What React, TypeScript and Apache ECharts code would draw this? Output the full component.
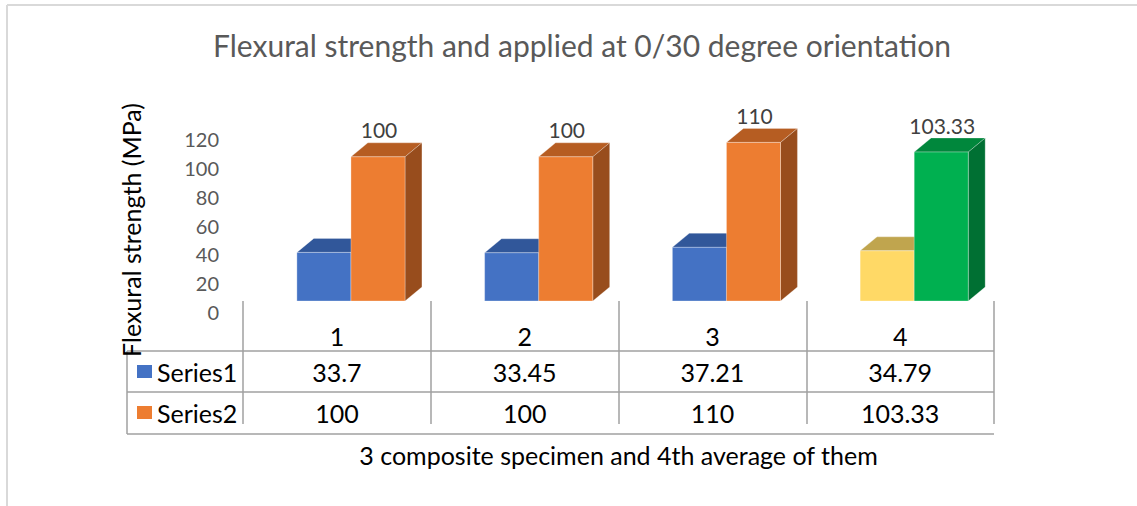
import React, { useEffect, useRef } from "react";
import * as echarts from "echarts";

const categories = ["1", "2", "3", "4"];
const series1Name = "Series1";
const series2Name = "Series2";
const series1Values = [33.7, 33.45, 37.21, 34.79];
const series2Values = [100, 100, 110, 103.33];
const yTicks = { min: 0, max: 120, interval: 20 };
const titleText = "Flexural strength and applied at 0/30 degree orientation";
const yAxisTitle = "Flexural strength (MPa)";
const xAxisTitle = "3 composite specimen and 4th average of them";

// face colours [front, top, side] per series per category
const series1Faces = [
  ["#4472C4", "#31579A", "#28477F"],
  ["#4472C4", "#31579A", "#28477F"],
  ["#4472C4", "#31579A", "#28477F"],
  ["#FFD966", "#C0A54E", "#A08A40"],
];
const series2Faces = [
  ["#ED7D31", "#B65D22", "#984D1D"],
  ["#ED7D31", "#B65D22", "#984D1D"],
  ["#ED7D31", "#B65D22", "#984D1D"],
  ["#00B050", "#00873C", "#007033"],
];

const FONT = "Lato";
const TABLE_FS = 25;

function makeRender(faces: string[][], seriesIdx: number, showLabel: boolean) {
  return (params: any, api: any) => {
    const ci = api.value(0);
    const v = api.value(1);
    const top = api.coord([ci, v]);
    const base = api.coord([ci, 0]);
    const band = api.size([1, 0])[0];
    const w = band * 0.288;
    const dx = band * 0.09;
    const dy = 14;
    const x0 = top[0] - band * 0.213 + seriesIdx * w;
    const x1 = x0 + w;
    const yt = top[1];
    const yb = base[1];
    const f = faces[ci];
    const children: any[] = [
      {
        type: "polygon",
        shape: { points: [[x0, yt], [x1, yt], [x1 + dx, yt - dy], [x0 + dx, yt - dy]] },
        style: { fill: f[1], stroke: "rgba(255,255,255,0.25)", lineWidth: 1 },
      },
      {
        type: "polygon",
        shape: { points: [[x1, yt], [x1 + dx, yt - dy], [x1 + dx, yb - dy], [x1, yb]] },
        style: { fill: f[2], stroke: "rgba(255,255,255,0.25)", lineWidth: 1 },
      },
      {
        type: "rect",
        shape: { x: x0, y: yt, width: w, height: yb - yt },
        style: { fill: f[0], stroke: "rgba(255,255,255,0.3)", lineWidth: 1 },
      },
    ];
    if (showLabel) {
      children.push({
        type: "text",
        style: {
          text: String(v),
          x: (x0 + x1) / 2 + 1,
          y: yt - dy - 13,
          align: "center",
          verticalAlign: "middle",
          font: `21px ${FONT}`,
          fill: "#404040",
        },
      });
    }
    return { type: "group", children };
  };
}

export default function App() {
  const ref = useRef<HTMLDivElement>(null);
  useEffect(() => {
    const chart = echarts.init(ref.current!, null, { renderer: "svg" });
    const tableLine = { stroke: "#A0A0A0", lineWidth: 1.5 };
    const rowAxis = (margin: number, values: number[] | null) => ({
      type: "category",
      gridIndex: 0,
      data: categories,
      position: "bottom",
      offset: 10,
      axisLine: { show: false },
      axisTick: { show: false },
      axisLabel: {
        margin,
        fontFamily: FONT,
        fontSize: TABLE_FS,
        color: "#000",
        formatter: (v: string, i: number) => (values ? String(values[i]) : v),
      },
    });
    chart.setOption({
      animation: false,
      backgroundColor: "#fff",
      title: {
        text: titleText,
        left: 577,
        textAlign: "center",
        top: 25,
        textStyle: { fontFamily: FONT, fontSize: 30, fontWeight: "normal", color: "#595959" },
      },
      legend: {
        data: [series1Name, series2Name],
        orient: "vertical",
        left: 137,
        top: 359,
        padding: 0,
        itemGap: 16,
        itemWidth: 15,
        itemHeight: 13,
        icon: "rect",
        selectedMode: false,
        textStyle: { fontFamily: FONT, fontSize: TABLE_FS, color: "#000", lineHeight: 25 },
      },
      grid: [
        { left: 243, right: 143, top: 128, height: 173 },
        { left: 243, right: 143, top: 139, height: 173 },
      ],
      xAxis: [
        {
          type: "category",
          gridIndex: 0,
          data: categories,
          position: "bottom",
          offset: 10,
          axisLine: { show: false },
          axisTick: { show: true, length: 123, lineStyle: { color: "#A0A0A0", width: 1.5 } },
          axisLabel: { margin: 12, fontFamily: FONT, fontSize: TABLE_FS, color: "#000" },
          name: xAxisTitle,
          nameLocation: "middle",
          nameGap: 131,
          nameTextStyle: { fontFamily: FONT, fontSize: TABLE_FS, color: "#000" },
        },
        rowAxis(48, series1Values),
        rowAxis(89, series2Values),
        { type: "category", gridIndex: 1, data: categories, show: false },
      ],
      yAxis: [
        { type: "value", gridIndex: 0, ...yTicks, show: false },
        {
          type: "value",
          gridIndex: 1,
          ...yTicks,
          axisLine: { show: false },
          axisTick: { show: false },
          splitLine: { show: false },
          axisLabel: { margin: 24, fontFamily: FONT, fontSize: 20, color: "#595959" },
        },
      ],
      graphic: [
        { type: "line", shape: { x1: 7, y1: 5, x2: 1137, y2: 5 }, style: { stroke: "#D9D9D9", lineWidth: 2 } },
        { type: "line", shape: { x1: 7, y1: 5, x2: 7, y2: 506 }, style: { stroke: "#D9D9D9", lineWidth: 2 } },
        { type: "line", shape: { x1: 127, y1: 351, x2: 994, y2: 351 }, style: tableLine },
        { type: "line", shape: { x1: 127, y1: 392, x2: 994, y2: 392 }, style: tableLine },
        { type: "line", shape: { x1: 127, y1: 434, x2: 994, y2: 434 }, style: tableLine },
        { type: "line", shape: { x1: 127, y1: 351, x2: 127, y2: 434 }, style: tableLine },
        {
          type: "text",
          x: 131,
          y: 230,
          rotation: Math.PI / 2,
          style: {
            text: yAxisTitle,
            align: "center",
            verticalAlign: "middle",
            font: `25px ${FONT}`,
            fill: "#000",
          },
        },
      ],
      series: [
        {
          name: series1Name,
          type: "custom",
          xAxisIndex: 0,
          yAxisIndex: 0,
          itemStyle: { color: "#4472C4" },
          renderItem: makeRender(series1Faces, 0, false),
          data: series1Values.map((v, i) => [i, v]),
          z: 2,
        },
        {
          name: series2Name,
          type: "custom",
          xAxisIndex: 0,
          yAxisIndex: 0,
          itemStyle: { color: "#ED7D31" },
          renderItem: makeRender(series2Faces, 1, true),
          data: series2Values.map((v, i) => [i, v]),
          z: 3,
        },
      ],
    });
    return () => chart.dispose();
  }, []);
  return (
    <div
      ref={ref}
      style={{ position: "fixed", left: 0, top: 0, width: 1137, height: 506, background: "#fff" }}
    />
  );
}
